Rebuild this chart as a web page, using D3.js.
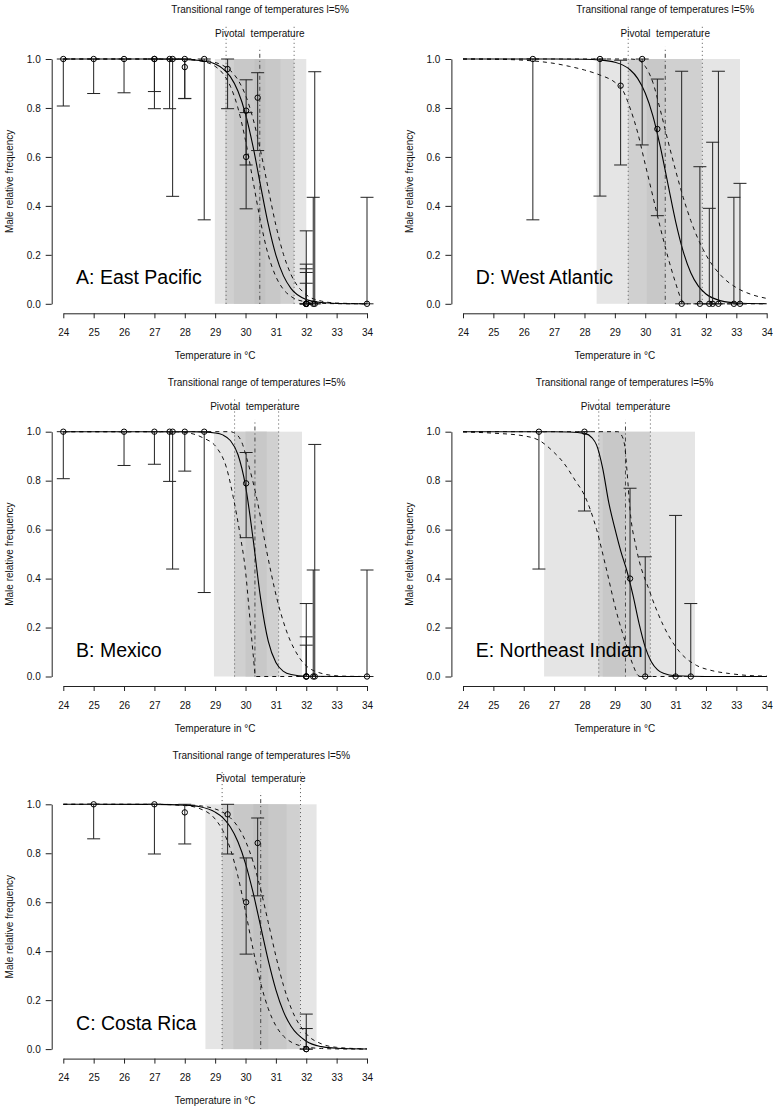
<!DOCTYPE html>
<html><head><meta charset="utf-8">
<script src="https://cdn.jsdelivr.net/npm/d3@7"></script>
<style>
body{margin:0;background:#fff}
text{font-family:"Liberation Sans",Arial,Helvetica,sans-serif;}
</style>
</head><body>
<svg id="chart" width="776" height="1111"></svg>
<script>
// ---------------- DATA ----------------
const xTicks = [24,25,26,27,28,29,30,31,32,33,34];
const yTicks = [0,0.2,0.4,0.6,0.8,1.0];
const xLabel = "Temperature in \u00B0C";
const yLabel = "Male relative frequency";
const trtText = "Transitional range of temperatures l=5%";
const pivotText = "Pivotal  temperature";

// A: East Pacific
const epTemp = [24,25,26,27,27,27.5,27.6,28,28,28.64,29.41,30.02,30.02,30.4,32,32,32,32,32,32.23,32.28,34];
const epMale = [1,1,1,1,1,1,1,1,0.967,1,0.959,0.789,0.60,0.842,0,0,0,0,0,0,0,0];
const epLow  = [0.808,0.859,0.862,0.867,0.797,0.797,0.439,0.839,0.838,0.343,0.797,0.567,0.388,0.626,0,0,0,0,0,0,0,0];
const epHigh = [1,1,1,1,1,1,1,1,1,1,1,0.915,0.781,0.944,0.298,0.162,0.128,0.143,0.084,0.435,0.948,0.435];
const epFit = [[24,1],[27,0.9999],[28,0.9985],[28.5,0.994],[29,0.98],[29.25,0.961],[29.5,0.928],[29.75,0.869],[30,0.775],[30.25,0.641],[30.5,0.48],[30.75,0.324],[31,0.199],[31.25,0.114],[31.5,0.062],[32,0.0175],[32.5,0.005],[33,0.0013],[34,0.0001]];
const epFitLow = [[24,1],[27,0.9999],[28,0.998],[28.5,0.992],[29,0.97],[29.25,0.9415],[29.5,0.889],[29.75,0.80],[30,0.667],[30.25,0.5],[30.5,0.333],[30.75,0.199],[31,0.111],[31.25,0.0585],[31.5,0.030],[32,0.0077],[32.5,0.002],[33,0.0005],[34,0]];
const epFitHigh = [[24,1],[27,0.9999],[28,0.9988],[28.5,0.996],[29,0.986],[29.25,0.974],[29.5,0.953],[29.75,0.915],[30,0.852],[30.25,0.755],[30.5,0.622],[30.75,0.469],[31,0.321],[31.25,0.202],[31.5,0.119],[32,0.037],[32.5,0.011],[33,0.0032],[34,0.0003]];
const epPivot = 30.47;
const epTRT = [29.36,31.60];
const epBands = [[28.99,32.0,0],[29.33,31.6,1],[29.62,31.15,2],[30.3,30.65,3]];

// B: Mexico
const mxTemp = [24,26,27,27.5,27.6,28,28.64,30.02,32,32,32,32.23,32.28,34];
const mxMale = [1,1,1,1,1,1,1,0.789,0,0,0,0,0,0];
const mxLow  = [0.808,0.862,0.867,0.797,0.439,0.839,0.343,0.567,0,0,0,0,0,0];
const mxHigh = [1,1,1,1,1,1,1,0.915,0.298,0.162,0.128,0.435,0.948,0.435];
const mxFit = [[24,1],[28,0.9999],[28.5,0.9994],[29,0.995],[29.25,0.987],[29.5,0.964],[29.75,0.907],[30,0.779],[30.25,0.561],[30.5,0.316],[30.75,0.143],[31,0.057],[31.25,0.021],[31.5,0.008],[32,0.001],[34,0]];
const mxFitLow = [[24,1],[27.8,1],[28,0.997],[28.3,0.99],[28.6,0.975],[29.05,0.935],[29.38,0.85],[29.6,0.73],[29.82,0.58],[30,0.43],[30.12,0.27],[30.26,0.08],[30.33,0],[34,0]];
const mxFitHigh = [[24,1],[29.5,1],[29.6,0.997],[29.87,0.959],[30.04,0.891],[30.37,0.728],[30.7,0.51],[31.03,0.32],[31.36,0.182],[31.79,0.074],[32.34,0.019],[33.11,0.002],[34,0]];
const mxPivot = 30.31;
const mxTRT = [29.64,31.09];
const mxBands = [[28.96,31.86,0],[29.63,31.08,1],[30.0,30.7,2]];

// C: Costa Rica
const crTemp = [25,27,28,29.41,30.02,30.4,32,32];
const crMale = [1,1,0.967,0.959,0.60,0.842,0,0];
const crLow  = [0.859,0.797,0.838,0.797,0.388,0.626,0,0];
const crHigh = [1,1,1,1,0.781,0.944,0.143,0.084];
const crFit = [[24,1],[27,0.9997],[28,0.9967],[28.5,0.99],[29,0.968],[29.25,0.9455],[29.5,0.907],[29.75,0.847],[30,0.758],[30.25,0.639],[30.5,0.5],[30.75,0.361],[31,0.242],[31.25,0.153],[31.5,0.093],[32,0.032],[32.5,0.010],[33,0.0033],[34,0.0003]];
const crFitLow = [[24,1],[27,0.9996],[28,0.995],[28.5,0.982],[29,0.94],[29.25,0.893],[29.5,0.818],[29.75,0.706],[30,0.562],[30.25,0.407],[30.5,0.269],[30.75,0.165],[31,0.095],[31.25,0.053],[31.5,0.029],[32,0.0086],[32.5,0.0025],[33,0.0007],[34,0]];
const crFitHigh = [[24,1],[27,0.9998],[28,0.998],[28.5,0.994],[29,0.981],[29.25,0.968],[29.5,0.945],[29.75,0.908],[30,0.85],[30.25,0.765],[30.5,0.651],[30.75,0.517],[31,0.38],[31.25,0.26],[31.5,0.168],[32,0.0625],[32.5,0.0214],[33,0.0072],[34,0.0008]];
const crPivot = 30.50;
const crTRT = [29.23,31.81];
const crBands = [[28.68,32.34,0],[29.23,31.79,1],[29.6,31.35,2],[30.26,30.75,3]];

// D: West Atlantic
const waTemp = [26.3,28.51,29.19,29.9,30.4,31.2,31.8,32.11,32.22,32.41,32.92,33.12];
const waMale = [1,1,0.891,1,0.714,0,0,0,0,0,0,0];
const waLow  = [0.343,0.44,0.567,0.649,0.36,0,0,0,0,0,0,0];
const waHigh = [1,1,0.995,1,0.918,0.95,0.56,0.39,0.66,0.95,0.435,0.492];
const waFit = [[24,1],[27,0.9999],[28,0.9989],[28.5,0.996],[29,0.987],[29.25,0.976],[29.5,0.956],[29.75,0.921],[30,0.861],[30.25,0.769],[30.5,0.64],[30.75,0.488],[31,0.337],[31.25,0.214],[31.5,0.127],[31.75,0.072],[32,0.04],[32.5,0.012],[33,0.0034],[34,0.0003]];
const waFitLow = [[24,1],[25,0.999],[26,0.995],[26.5,0.99],[27,0.982],[27.5,0.97],[28,0.955],[28.5,0.935],[29,0.905],[29.25,0.875],[29.5,0.8],[29.75,0.7],[30,0.57],[30.25,0.44],[30.5,0.31],[30.75,0.19],[31,0.085],[31.2,0.015],[31.3,0],[34,0]];
const waFitHigh = [[24,1],[29.5,1],[29.75,0.996],[30,0.97],[30.25,0.905],[30.5,0.79],[30.75,0.665],[31,0.545],[31.25,0.435],[31.5,0.34],[32,0.2],[32.5,0.115],[33,0.066],[33.5,0.038],[34,0.022]];
const waPivot = 30.66;
const waTRT = [29.44,31.88];
const waBands = [[28.4,33.12,0],[29.44,31.86,1],[30.05,30.65,2]];

// E: Northeast Indian
const niTemp = [26.5,28.0,29.5,30.0,31.0,31.5];
const niMale = [1,1,0.40,0,0,0];
const niLow  = [0.439,0.676,0.12,0,0,0];
const niHigh = [1,1,0.769,0.489,0.658,0.298];
const niFit = [[24,1],[27,1],[27.5,0.999],[28,0.993],[28.25,0.975],[28.4,0.945],[28.6,0.85],[28.8,0.71],[29,0.605],[29.2,0.51],[29.4,0.43],[29.6,0.33],[29.8,0.215],[30,0.12],[30.2,0.06],[30.4,0.028],[30.6,0.013],[31,0.003],[32,0],[34,0]];
const niFitLow = [[24,0.999],[25,0.994],[26,0.983],[26.5,0.965],[27,0.915],[27.3,0.875],[27.7,0.8],[28,0.74],[28.4,0.6],[28.7,0.45],[29.05,0.265],[29.4,0.12],[29.6,0.046],[29.76,0.005],[29.85,0],[34,0]];
const niFitHigh = [[24,1],[29.1,1],[29.2,0.99],[29.32,0.946],[29.4,0.84],[29.5,0.68],[29.71,0.523],[30.15,0.346],[30.59,0.21],[31.13,0.101],[31.68,0.046],[32.2,0.024],[32.78,0.012],[33.88,0.002],[34,0.002]];
const niPivot = 29.35;
const niTRT = [28.47,30.17];
const niBands = [[26.67,31.64,0],[28.46,30.16,1],[28.6,29.35,2]];

// ---------------- DRAWING ----------------
const panels = [
  {label:"A: East Pacific", left:63.3, top:59, temp:epTemp, male:epMale, low:epLow, high:epHigh, fit:epFit, fitLow:epFitLow, fitHigh:epFitHigh, pivot:epPivot, trt:epTRT, bands:epBands},
  {label:"D: West Atlantic", left:463, top:59, temp:waTemp, male:waMale, low:waLow, high:waHigh, fit:waFit, fitLow:waFitLow, fitHigh:waFitHigh, pivot:waPivot, trt:waTRT, bands:waBands},
  {label:"B: Mexico", left:63.3, top:431.7, temp:mxTemp, male:mxMale, low:mxLow, high:mxHigh, fit:mxFit, fitLow:mxFitLow, fitHigh:mxFitHigh, pivot:mxPivot, trt:mxTRT, bands:mxBands},
  {label:"E: Northeast Indian", left:463, top:431.7, temp:niTemp, male:niMale, low:niLow, high:niHigh, fit:niFit, fitLow:niFitLow, fitHigh:niFitHigh, pivot:niPivot, trt:niTRT, bands:niBands},
  {label:"C: Costa Rica", left:63.3, top:804.3, temp:crTemp, male:crMale, low:crLow, high:crHigh, fit:crFit, fitLow:crFitLow, fitHigh:crFitHigh, pivot:crPivot, trt:crTRT, bands:crBands}
];

const W = 303.7, H = 244.8;
const bandFill = ["#e5e5e5","#d0d0d0","#c8c8c8","#c2c2c2"];
const svg = d3.select("#chart");
svg.append("rect").attr("width",776).attr("height",1111).attr("fill","#fff");

panels.forEach(cfg => {
  const x = d3.scaleLinear().domain([24,34]).range([cfg.left, cfg.left + W]);
  const y = d3.scaleLinear().domain([0,1]).range([cfg.top + H, cfg.top]);
  const g = svg.append("g");

  // shaded bands
  g.selectAll("rect.band").data(cfg.bands).enter().append("rect")
    .attr("x", d => x(d[0])).attr("width", d => x(d[1]) - x(d[0]))
    .attr("y", y(1)).attr("height", y(0) - y(1))
    .attr("fill", d => bandFill[d[2]]);

  // TRT limits (dotted)
  g.selectAll("line.trt").data(cfg.trt).enter().append("line")
    .attr("x1", d => x(d)).attr("x2", d => x(d))
    .attr("y1", y(0)).attr("y2", y(1.143))
    .attr("stroke", "#555").attr("stroke-width", 1).attr("stroke-dasharray", "1,3");

  // pivotal temperature (dot-dash)
  g.append("line")
    .attr("x1", x(cfg.pivot)).attr("x2", x(cfg.pivot))
    .attr("y1", y(0)).attr("y2", y(1.05))
    .attr("stroke", "#444").attr("stroke-width", 1).attr("stroke-dasharray", "1,3,4,3");

  // texts above
  const trtMid = (cfg.trt[0] + cfg.trt[1]) / 2;
  g.append("text").attr("x", x(trtMid)).attr("y", y(1.187))
    .attr("text-anchor","middle").attr("font-size",10).attr("fill","#111").text(trtText);
  g.append("text").attr("x", x(cfg.pivot)).attr("y", y(1.09))
    .attr("text-anchor","middle").attr("font-size",10).attr("fill","#111")
    .style("white-space","pre").text(pivotText);

  // curves
  const line = d3.line().x(d => x(d[0])).y(d => y(d[1])).curve(d3.curveMonotoneX);
  [cfg.fitLow, cfg.fitHigh].forEach(c => {
    g.append("path").datum(c).attr("d", line).attr("fill","none")
      .attr("stroke","#111").attr("stroke-width",1).attr("stroke-dasharray","4,4");
  });
  g.append("path").datum(cfg.fit).attr("d", line).attr("fill","none")
    .attr("stroke","#000").attr("stroke-width",1.1);

  // error bars
  const idx = d3.range(cfg.temp.length);
  const cap = 6.5;
  idx.forEach(i => {
    const xi = x(cfg.temp[i]);
    g.append("line").attr("x1",xi).attr("x2",xi).attr("y1",y(cfg.low[i])).attr("y2",y(cfg.high[i]))
      .attr("stroke","#222").attr("stroke-width",1);
    [cfg.low[i], cfg.high[i]].forEach(v => {
      g.append("line").attr("x1",xi-cap).attr("x2",xi+cap).attr("y1",y(v)).attr("y2",y(v))
        .attr("stroke","#222").attr("stroke-width",1);
    });
  });
  // points
  g.selectAll("circle.pt").data(idx).enter().append("circle")
    .attr("cx", i => x(cfg.temp[i])).attr("cy", i => y(cfg.male[i])).attr("r", 2.7)
    .attr("fill","none").attr("stroke","#000").attr("stroke-width",1);

  // axes
  const xAxis = d3.axisBottom(x).tickValues(xTicks).tickSize(5).tickSizeOuter(0).tickPadding(10.5)
    .tickFormat(d3.format("d"));
  const gx = g.append("g").attr("transform", `translate(0,${y(0) + 9.5})`).call(xAxis);
  const yAxis = d3.axisLeft(y).tickValues(yTicks).tickSize(6).tickSizeOuter(0).tickPadding(5)
    .tickFormat(d3.format(".1f"));
  const gy = g.append("g").attr("transform", `translate(${cfg.left - 11.6},0)`).call(yAxis);
  [gx, gy].forEach(a => {
    a.selectAll("text").attr("font-size",10).attr("fill","#111")
      .style("font-family",'"Liberation Sans",Arial,Helvetica,sans-serif');
    a.selectAll("path,line").attr("stroke","#222");
  });

  // axis labels
  g.append("text").attr("x", x(29)).attr("y", y(0) + 55)
    .attr("text-anchor","middle").attr("font-size",10).attr("fill","#111").text(xLabel);
  g.append("text")
    .attr("transform", `translate(${cfg.left - 50},${(y(0)+y(1))/2}) rotate(-90)`)
    .attr("text-anchor","middle").attr("font-size",10).attr("fill","#111").text(yLabel);

  // panel label
  g.append("text").attr("x", x(24.42)).attr("y", y(0.08))
    .attr("font-size",19.5).attr("fill","#000").text(cfg.label);
});
</script>
</body></html>
